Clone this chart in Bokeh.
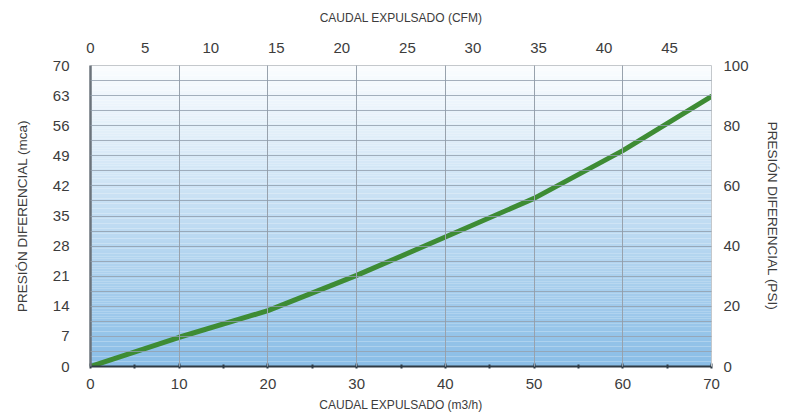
from bokeh.plotting import figure
from bokeh.models import Range1d, LinearAxis, FixedTicker
from bokeh.embed import file_html
from bokeh.resources import INLINE

# Data
flow_m3h = [0, 10, 20, 30, 40, 50, 60, 70]
pressure_mca = [0, 6.8, 13.0, 21.2, 30.1, 39.1, 50.2, 62.8]

x_ticks_m3h = [0, 10, 20, 30, 40, 50, 60, 70]
y_ticks_mca = [0, 7, 14, 21, 28, 35, 42, 49, 56, 63, 70]
y_ticks_psi = [0, 20, 40, 60, 80, 100]
x_ticks_cfm = [0, 5, 10, 15, 20, 25, 30, 35, 40, 45]
cfm_range = (0.82, 48.2)   # top scale as drawn (not aligned to the m3/h scale)

FONT = "Liberation Sans"
TXT = "#3c3c3c"

p = figure(width=782, height=416, output_backend="svg", toolbar_location=None,
           x_range=Range1d(0, 70), y_range=Range1d(0, 70),
           min_border_left=90, min_border_right=69, min_border_top=65, min_border_bottom=50,
           x_axis_location=None, y_axis_location=None)
p.outline_line_color = None
p.background_fill_color = "white"
p.border_fill_color = "white"

# vertical gradient background (white top -> light blue bottom)
n = 120
top_c = (251, 253, 255)
bot_c = (138, 190, 231)
bottoms, tops, cols = [], [], []
for i in range(n):
    f = (i + 0.5) / n
    r = int(bot_c[0] + (top_c[0] - bot_c[0]) * f)
    g = int(bot_c[1] + (top_c[1] - bot_c[1]) * f)
    bl = int(bot_c[2] + (top_c[2] - bot_c[2]) * f)
    bottoms.append(70 * i / n); tops.append(70 * (i + 1) / n)
    cols.append("#%02x%02x%02x" % (r, g, bl))
p.quad(left=0, right=70, bottom=bottoms, top=tops, fill_color=cols, line_color=None)

# grids
p.xgrid.ticker = FixedTicker(ticks=x_ticks_m3h[1:-1])
p.xgrid.grid_line_color = "#98a2ad"
p.xgrid.grid_line_width = 1
p.xgrid.level = "overlay"
p.ygrid.ticker = FixedTicker(ticks=[3.5 * k for k in range(1, 20)])
p.ygrid.grid_line_color = "#8f9cab"
p.ygrid.grid_line_alpha = 0.8
p.ygrid.grid_line_width = 1
p.ygrid.level = "overlay"

p.line(flow_m3h, pressure_mca, line_color="#3e8c34", line_width=5, line_cap="round", line_join="round")

def style(ax, title_size):
    ax.major_label_text_font = FONT
    ax.major_label_text_font_size = "15px"
    ax.major_label_text_color = TXT
    ax.axis_label_text_font = FONT
    ax.axis_label_text_font_size = title_size
    ax.axis_label_text_font_style = "normal"
    ax.axis_label_text_color = TXT

# bottom axis
xb = LinearAxis(ticker=FixedTicker(ticks=x_ticks_m3h, minor_ticks=[5, 15, 25, 35, 45, 55, 65]),
                axis_label="CAUDAL EXPULSADO (m3/h)")
style(xb, "12px")
xb.axis_line_color = "#2f3a44"; xb.axis_line_width = 2
xb.major_tick_line_color = "#2f3a44"; xb.major_tick_in = 3; xb.major_tick_out = 2
xb.major_tick_line_width = 2
xb.minor_tick_line_color = "#2f3a44"; xb.minor_tick_in = 2; xb.minor_tick_out = 2
xb.minor_tick_line_width = 2
xb.major_label_standoff = 10
xb.axis_label_standoff = 6
p.add_layout(xb, "below")

# left axis
yl = LinearAxis(ticker=FixedTicker(ticks=y_ticks_mca, minor_ticks=[]),
                axis_label="PRESIÓN DIFERENCIAL (mca)")
style(yl, "13.5px")
yl.axis_line_color = "#6b737b"; yl.axis_line_width = 2.5
yl.major_tick_out = 0; yl.major_tick_in = 0
yl.minor_tick_out = 0; yl.minor_tick_in = 0
yl.major_label_standoff = 21
yl.axis_label_standoff = 20
p.add_layout(yl, "left")

# right axis (PSI)
p.extra_y_ranges = {"psi": Range1d(0, 100)}
yr = LinearAxis(y_range_name="psi", ticker=FixedTicker(ticks=y_ticks_psi, minor_ticks=[]),
                axis_label="PRESIÓN DIFERENCIAL (PSI)")
style(yr, "13.5px")
yr.axis_line_color = "#c4c8cc"; yr.axis_line_width = 1
yr.major_tick_out = 0; yr.major_tick_in = 0
yr.minor_tick_out = 0; yr.minor_tick_in = 0
yr.major_label_standoff = 12
yr.axis_label_standoff = 13
p.add_layout(yr, "right")

# top axis (CFM)
cfm_positions = [max(t, cfm_range[0]) for t in x_ticks_cfm]
p.extra_x_ranges = {"cfm": Range1d(*cfm_range)}
xt = LinearAxis(x_range_name="cfm", ticker=FixedTicker(ticks=cfm_positions, minor_ticks=[]),
                axis_label="CAUDAL EXPULSADO (CFM)",
                major_label_overrides={pos: str(t) for pos, t in zip(cfm_positions, x_ticks_cfm)})
style(xt, "12px")
xt.axis_line_color = "#c4c8cc"; xt.axis_line_width = 1
xt.major_tick_out = 0; xt.major_tick_in = 0
xt.minor_tick_out = 0; xt.minor_tick_in = 0
xt.major_label_standoff = 13
xt.axis_label_standoff = 15
p.add_layout(xt, "above")

open("out.html", "w").write(file_html(p, INLINE))
